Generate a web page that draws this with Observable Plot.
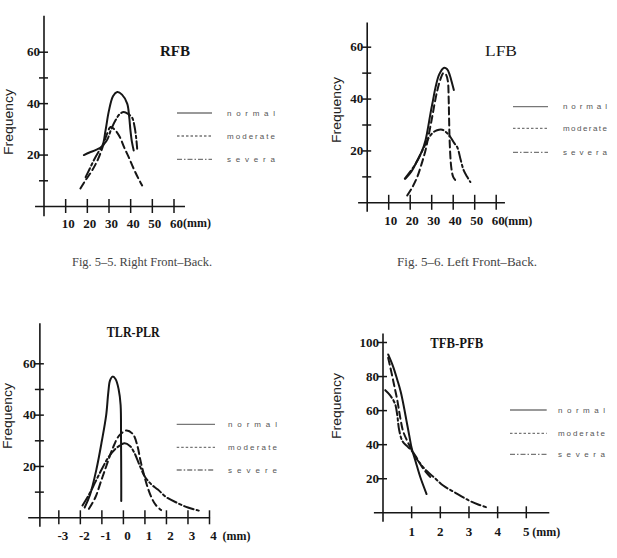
<!DOCTYPE html>
<html>
<head>
<meta charset="utf-8">
<script src="https://cdn.jsdelivr.net/npm/d3@7"></script>
<script src="https://cdn.jsdelivr.net/npm/@observablehq/plot@0.6"></script>
<style>
  html, body { margin: 0; padding: 0; background: #fff; }
  #fig { position: relative; width: 617px; height: 558px; overflow: hidden; background: #fff; }
  #fig svg { position: absolute; left: 0; top: 0; }
</style>
</head>
<body>
<div id="fig"></div>
<script>
// ---- Right Front-Back (RFB), x in mm ----
const rfbNormal   = [[18.4,20],[21,21],[24,22],[26.8,23.5],[28.4,29.6],[29.9,37],[31.9,43],[33.8,44.5],[36,43.5],[38.4,40],[39.3,35],[39.9,29.6],[40.6,25],[41.4,21.8]];
const rfbModerate = [[16.8,7],[19,10],[22.2,14],[25,18.5],[27,23],[29,28],[30.7,30.9],[32.5,30],[35,27],[37,23],[39.1,19.2],[41.5,14.5],[43.5,11],[45.3,8.2]];
const rfbSevere   = [[19.2,11.4],[21,14.5],[23,18],[25,21],[27,23.5],[29.2,26],[31,30],[33,33.5],[35,36],[36.8,36.7],[38.8,36],[40.7,34.5],[41.8,31],[42.5,27],[43,22.5]];
const rfbXTicks = [10, 20, 30, 40, 50, 60];
const rfbYTicks = [10, 20, 30, 40, 50, 60];
const rfbYLabels = [20, 40, 60];
const rfbLegend = ["normal", "moderate", "severa"];

// ---- Left Front-Back (LFB) ----
const lfbNormal   = [[17.8,9.3],[20.5,12],[23.3,16.3],[25.5,20],[27.1,24],[28.3,29],[29.4,34.3],[30.6,39.5],[31.8,44.6],[33.5,49.5],[35.6,52],[37.2,51.5],[38.5,49],[39.5,46],[40.3,43.5]];
const lfbModerate = [[18.6,2.8],[21,6],[23.3,10],[25.3,15],[27.1,20.2],[28.7,26.5],[30.2,33],[31.4,38.5],[32.6,43.3],[34,47.5],[35.4,50],[36.6,49.5],[37.5,47],[37.9,40],[38.1,32],[38.4,22.8],[39.1,13.7],[40,10],[41.1,8.6]];
const lfbSevere   = [[17.5,9.3],[20,12],[22.5,15],[25,19],[27,22.5],[28.7,25.1],[30.5,27],[32.5,28],[34.9,28.2],[37,27],[39,25],[40.5,23],[41.9,21.4],[43.5,16.5],[44.9,12.5],[46.5,10],[48,8]];
const lfbXTicks = [10, 20, 30, 40, 50, 60];
const lfbYTicks = [10, 20, 30, 40, 50, 60];
const lfbYLabels = [20, 40, 60];
const lfbLegend = ["normal", "moderate", "severa"];

// ---- TLR-PLR ----
const tlrNormal   = [[-1.8,4],[-1.55,9],[-1.25,19],[-1.0,30],[-0.8,40],[-0.7,49],[-0.62,53.5],[-0.5,55],[-0.36,54],[-0.22,50],[-0.13,44],[-0.11,30],[-0.1,15],[-0.1,6.5]];
const tlrModerate = [[-1.6,3.5],[-1.3,8],[-1.05,14],[-0.8,20],[-0.5,27],[-0.2,32],[0.15,34],[0.45,32.5],[0.65,28],[0.8,22],[0.95,17],[1.1,12.5],[1.3,8],[1.5,5],[1.75,3]];
const tlrSevere   = [[-1.9,4.8],[-1.6,9],[-1.3,14],[-1.0,19],[-0.7,23.5],[-0.35,27],[0.05,29],[0.3,28],[0.5,25.5],[0.75,20.5],[1.0,16],[1.3,13],[1.6,11],[2.0,8],[2.5,5.8],[3.0,4],[3.5,2.8]];
const tlrXTicks = [-3, -2, -1, 0, 1, 2, 3, 4];
const tlrYTicks = [10, 20, 30, 40, 50, 60];
const tlrYLabels = [20, 40, 60];
const tlrLegend = ["normal", "moderate", "severe"];

// ---- TFB-PFB ----
const tfbNormal   = [[0.18,93],[0.35,86],[0.5,78],[0.62,71],[0.72,63],[0.82,54],[0.92,45],[1.0,38],[1.14,30],[1.3,21],[1.52,11]];
const tfbModerate = [[0.18,91],[0.3,82],[0.4,74],[0.5,66],[0.6,56],[0.7,48],[0.85,42],[1.0,37],[1.15,33],[1.4,26],[1.65,21]];
const tfbSevere   = [[0.08,72],[0.25,69],[0.42,64],[0.5,57],[0.56,49],[0.68,42],[0.85,39],[1.0,36.5],[1.2,31],[1.5,25],[1.8,20.5],[2.1,16],[2.5,12],[3.0,7.2],[3.3,5],[3.6,3.3]];
const tfbXTicks = [1, 2, 3, 4, 5];
const tfbYTicks = [20, 40, 60, 80, 100];
const tfbYLabels = [20, 40, 60, 80, 100];
const tfbLegend = ["normal", "moderate", "severa"];

const captions = ["Fig. 5\u20135. Right Front\u2013Back.", "Fig. 5\u20136. Left Front\u2013Back."];

const W = 617, H = 558;
const SERIF = "'Liberation Serif', 'Times New Roman', serif";
const SANS = "'Liberation Sans', Arial, sans-serif";
const INK = "#161616";
const dashes = [null, "7,4", "10,3,2.5,3"];

function panel(c) {
  const marks = [
    // axis lines
    Plot.ruleY([0], {x1: c.xLine[0], x2: c.xLine[1], stroke: INK, strokeWidth: 1.6}),
    Plot.ruleX([c.yAxisAt], {y1: c.yLine[0], y2: c.yLine[1], stroke: INK, strokeWidth: 1.6}),
    // tick marks crossing the axes
    Plot.ruleX(c.xTicks, {x: d => d, y1: 0, y2: 0, insetTop: -c.xTickLen, insetBottom: -c.xTickLen, stroke: INK, strokeWidth: 1.5}),
    Plot.ruleY(c.yTicks, {y: d => d, x1: c.yAxisAt, x2: c.yAxisAt, insetLeft: -4.5, insetRight: -4.5, stroke: INK, strokeWidth: 1.5}),
    // tick labels
    Plot.text(c.xTicks, {x: d => d, y: 0, text: d => String(d), dx: c.labelDx, dy: c.labelDy,
      fontSize: 13, fontWeight: "bold", fontFamily: SERIF, fill: INK}),
    Plot.text([c.xTicks[c.xTicks.length - 1]], {x: d => d, y: 0, text: () => "(mm)", textAnchor: "start",
      dx: c.unitDx, dy: c.labelDy, fontSize: 12, fontWeight: "bold", fontFamily: SERIF, fill: INK}),
    Plot.text(c.yLabels, {x: c.yAxisAt, y: d => d, text: d => String(d), textAnchor: "end", dx: -4,
      fontSize: 13, fontWeight: "bold", fontFamily: SERIF, fill: INK}),
    // frequency curves
    ...c.curves.map((data, i) => Plot.line(data, {x: d => d[0], y: d => d[1], curve: "catmull-rom",
      stroke: INK, strokeWidth: 2, strokeDasharray: dashes[i]}))
  ];
  const svg = Plot.plot({
    width: W, height: H, margin: 0,
    x: {domain: c.xDomain, range: c.xRange, axis: null},
    y: {domain: c.yDomain, range: c.yRange, axis: null},
    style: {background: "transparent"},
    marks
  });
  const s = d3.select(svg);
  // panel title
  s.append("text").attr("x", c.title.x).attr("y", c.title.y)
    .attr("text-anchor", "middle").attr("dominant-baseline", "central")
    .attr("font-family", SERIF).attr("font-size", 15).attr("font-weight", c.title.weight)
    .attr("textLength", c.title.len).attr("lengthAdjust", "spacingAndGlyphs")
    .attr("fill", INK).text(c.title.text);
  // y-axis name
  s.append("text").attr("transform", `translate(${c.yName[0]},${c.yName[1]}) rotate(-90)`)
    .attr("text-anchor", "middle").attr("dominant-baseline", "central")
    .attr("font-family", SANS).attr("font-size", 13)
    .attr("textLength", 66).attr("lengthAdjust", "spacingAndGlyphs")
    .attr("fill", "#222").text("Frequency");
  // legend
  const lg = s.append("g");
  c.legend.labels.forEach((lab, i) => {
    const y = c.legend.ys[i];
    lg.append("line").attr("x1", c.legend.x1).attr("x2", c.legend.x2).attr("y1", y).attr("y2", y)
      .attr("stroke", "#777").attr("stroke-width", 1.3)
      .attr("stroke-dasharray", ["", "2.5,2", "5,2,1.5,2"][i]);
    lg.append("text").attr("x", c.legend.tx).attr("y", y)
      .attr("text-anchor", "start").attr("dominant-baseline", "central")
      .attr("font-family", SANS).attr("font-size", 8).attr("fill", "#555")
      .attr("textLength", c.legend.tlen).attr("lengthAdjust", "spacing").text(lab);
  });
  return svg;
}

const fig = document.getElementById("fig");

const panels = [
  { // RFB
    xDomain: [0, 60], xRange: [43.5, 173.5], yDomain: [0, 60], yRange: [206, 51.7],
    yAxisAt: 0, xLine: [-3.9, 65.3], yLine: [-4, 74], xTickLen: 7,
    xTicks: rfbXTicks, yTicks: rfbYTicks, yLabels: rfbYLabels,
    labelDx: 2.5, labelDy: 17, unitDx: 9,
    curves: [rfbNormal, rfbModerate, rfbSevere],
    title: {text: "RFB", x: 175, y: 51, len: 30, weight: "bold"},
    yName: [8, 122],
    legend: {labels: rfbLegend, x1: 177, x2: 212, ys: [113, 136, 159.3], tx: 227, tlen: 48}
  },
  { // LFB
    xDomain: [0, 60], xRange: [366.7, 495.7], yDomain: [0, 60], yRange: [202.3, 46.7],
    yAxisAt: 0, xLine: [-4, 64.3], yLine: [-3.6, 69.3], xTickLen: 7.5,
    xTicks: lfbXTicks, yTicks: lfbYTicks, yLabels: lfbYLabels,
    labelDx: 2, labelDy: 18, unitDx: 8,
    curves: [lfbNormal, lfbModerate, lfbSevere],
    title: {text: "LFB", x: 501, y: 50.5, len: 32, weight: "normal"},
    yName: [336, 110],
    legend: {labels: lfbLegend, x1: 513, x2: 548, ys: [106.7, 128.3, 152.3], tx: 563, tlen: 44}
  },
  { // TLR-PLR
    xDomain: [-4, 4], xRange: [36.8, 209], yDomain: [0, 60], yRange: [517.3, 363.3],
    yAxisAt: -3.88, xLine: [-4.4, 4.05], yLine: [-3.7, 75.6], xTickLen: 7,
    xTicks: tlrXTicks, yTicks: tlrYTicks, yLabels: tlrYLabels,
    labelDx: 4, labelDy: 18, unitDx: 13,
    curves: [tlrNormal, tlrModerate, tlrSevere],
    title: {text: "TLR-PLR", x: 133.3, y: 332, len: 53, weight: "bold"},
    yName: [7, 416],
    legend: {labels: tlrLegend, x1: 176.7, x2: 215, ys: [424.3, 447.3, 470], tx: 228, tlen: 49}
  },
  { // TFB-PFB
    xDomain: [0, 5], xRange: [382.5, 525.8], yDomain: [0, 100], yRange: [512.3, 342],
    yAxisAt: 0, xLine: [-0.3, 5.82], yLine: [-5.5, 105], xTickLen: 6,
    xTicks: tfbXTicks, yTicks: tfbYTicks, yLabels: tfbYLabels,
    labelDx: 0, labelDy: 19, unitDx: 6,
    curves: [tfbNormal, tfbModerate, tfbSevere],
    title: {text: "TFB-PFB", x: 456.7, y: 342.7, len: 53, weight: "bold"},
    yName: [336, 406],
    legend: {labels: tfbLegend, x1: 510, x2: 546.7, ys: [410, 433.3, 454.3], tx: 558, tlen: 47}
  }
];

panels.forEach(c => fig.appendChild(panel(c)));

// figure captions under the top row
const cap = d3.select(fig).append("svg").attr("width", W).attr("height", H);
[[72, captions[0]], [397, captions[1]]].forEach(([x, t]) => {
  cap.append("text").attr("x", x).attr("y", 266)
    .attr("font-family", SERIF).attr("font-size", 12).attr("fill", "#444")
    .attr("textLength", 140).attr("lengthAdjust", "spacingAndGlyphs").text(t);
});
</script>
</body>
</html>
